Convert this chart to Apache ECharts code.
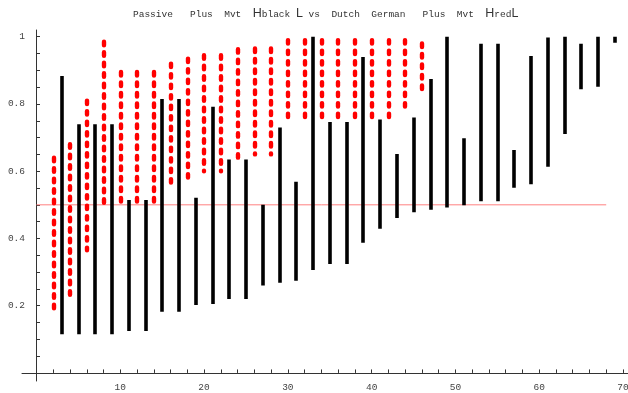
<!DOCTYPE html>
<html>
<head>
<meta charset="utf-8">
<title>Passive Plus Mvt vs Dutch German Plus Mvt</title>
<script src="https://cdn.jsdelivr.net/npm/echarts@6/dist/echarts.min.js"></script>
<style>
    html, body { margin: 0; padding: 0; background: #fff; }
    #chart { width: 628px; height: 393px; }
</style>
</head>
<body>
<div id="chart"></div>
<script>
// red dashed segments (Dutch German Plus Mvt)
var redX = [2, 4, 6, 8, 10, 12, 14, 16, 18, 20, 22, 24, 26, 28, 30, 32, 34, 36, 38, 40, 42, 44, 46];
var redLow = [0.19, 0.23, 0.365, 0.50, 0.51, 0.51, 0.51, 0.55, 0.565, 0.60, 0.60, 0.62, 0.65, 0.65,
    0.75, 0.75, 0.75, 0.75, 0.75, 0.75, 0.75, 0.775, 0.835];
var redHigh = [0.64, 0.68, 0.81, 0.985, 0.895, 0.895, 0.895, 0.92, 0.935, 0.945, 0.945, 0.963, 0.965, 0.965,
    0.99, 0.99, 0.99, 0.99, 0.99, 0.99, 0.99, 0.99, 0.98];

// black segments (Passive Plus Mvt)
var blackX = [3, 5, 7, 9, 11, 13, 15, 17, 19, 21, 23, 25, 27, 29, 31, 33, 35, 37, 39, 41, 43, 45, 47,
    49, 51, 53, 55, 57, 59, 61, 63, 65, 67, 69];
var blackLow = [0.115, 0.115, 0.115, 0.115, 0.125, 0.125, 0.182, 0.182, 0.202, 0.205, 0.22, 0.22, 0.26,
    0.268, 0.274, 0.306, 0.324, 0.324, 0.387, 0.429, 0.461, 0.478, 0.485, 0.492, 0.499, 0.511, 0.511,
    0.551, 0.561, 0.613, 0.711, 0.844, 0.851, 0.982];
var blackHigh = [0.883, 0.74, 0.74, 0.74, 0.514, 0.514, 0.815, 0.815, 0.521, 0.792, 0.635, 0.635, 0.50,
    0.73, 0.569, 1.0, 0.746, 0.746, 0.94, 0.754, 0.651, 0.76, 0.874, 1.0, 0.698, 0.979, 0.979,
    0.663, 0.943, 0.998, 1.0, 0.979, 1.0, 1.0];

// 0.5 reference line
var refX = [0, 68];
var refY = 0.5;

// tick labels and ticks
var xLabels = [10, 20, 30, 40, 50, 60, 70];
var xTicks = [2, 4, 6, 8, 10, 12, 14, 16, 18, 20, 22, 24, 26, 28, 30, 32, 34, 36, 38, 40, 42, 44, 46,
    48, 50, 52, 54, 56, 58, 60, 62, 64, 66, 68, 70];
var yLabels = [0.2, 0.4, 0.6, 0.8, 1];
var yTicks = [0.05, 0.1, 0.15, 0.2, 0.25, 0.3, 0.35, 0.4, 0.45, 0.5, 0.55, 0.6, 0.65, 0.7, 0.75,
    0.8, 0.85, 0.9, 0.95, 1];

/*把区间转成线段数据*/
function segments(xs, lows, highs) {
    return xs.map(function (x, i) {
        return { coords: [[x, highs[i]], [x, lows[i]]] };
    });
}

var mono = "'Liberation Mono', 'DejaVu Sans Mono', monospace";
var sans = "'Liberation Sans', 'DejaVu Sans', sans-serif";

var myChart = echarts.init(document.getElementById('chart'), null, { renderer: 'canvas' });
var option = {
    animation: false,
    backgroundColor: '#fff',
    title: {
        text: '{a|Passive   Plus  Mvt  }{b|H}{a|black }{b|L}{a| vs  Dutch  German   Plus  Mvt  }{b|H}{a|red}{b|L}',
        left: 128,
        top: 1,
        textStyle: {
            fontWeight: 'normal',
            rich: {
                a: { fontFamily: mono, fontSize: 9.5, fontWeight: 'normal', color: '#333', lineHeight: 16 },
                b: { fontFamily: sans, fontSize: 12.5, fontWeight: 'normal', color: '#333', lineHeight: 16 }
            }
        }
    },
    grid: { left: 22, right: 0, top: 30, bottom: 12, outerBoundsMode: 'none', containLabel: false },
    xAxis: {
        type: 'value',
        min: -1.73,
        max: 70.6,
        splitLine: { show: false },
        axisLine: { onZero: true, lineStyle: { color: '#333', width: 1 } },
        axisTick: { inside: true, length: 3.5, customValues: xTicks, lineStyle: { color: '#333' } },
        axisLabel: {
            customValues: xLabels,
            margin: 1,
            color: '#444',
            fontFamily: mono,
            fontSize: 9.5
        }
    },
    yAxis: {
        type: 'value',
        min: -0.024,
        max: 1.02,
        splitLine: { show: false },
        axisLine: { onZero: true, lineStyle: { color: '#333', width: 1 } },
        axisTick: { inside: true, length: 3.5, customValues: yTicks, lineStyle: { color: '#333' } },
        axisLabel: {
            customValues: yLabels,
            margin: -3,
            color: '#444',
            fontFamily: mono,
            fontSize: 9.5
        }
    },
    series: [
        {
            // 0.5 参考线
            type: 'line',
            data: refX.map(function (x) { return [x, refY]; }),
            symbol: 'none',
            lineStyle: { color: '#ff8080', width: 1 },
            z: 1
        },
        {
            type: 'lines',
            coordinateSystem: 'cartesian2d',
            data: segments(blackX, blackLow, blackHigh),
            lineStyle: { color: '#000', width: 3.6, opacity: 1, cap: 'butt' },
            z: 2
        },
        {
            type: 'lines',
            coordinateSystem: 'cartesian2d',
            data: segments(redX, redLow, redHigh),
            lineStyle: { color: '#ff0000', width: 4.4, opacity: 1, type: [3.5, 7], cap: 'round' },
            z: 3
        }
    ]
};
myChart.setOption(option);
</script>
</body>
</html>
